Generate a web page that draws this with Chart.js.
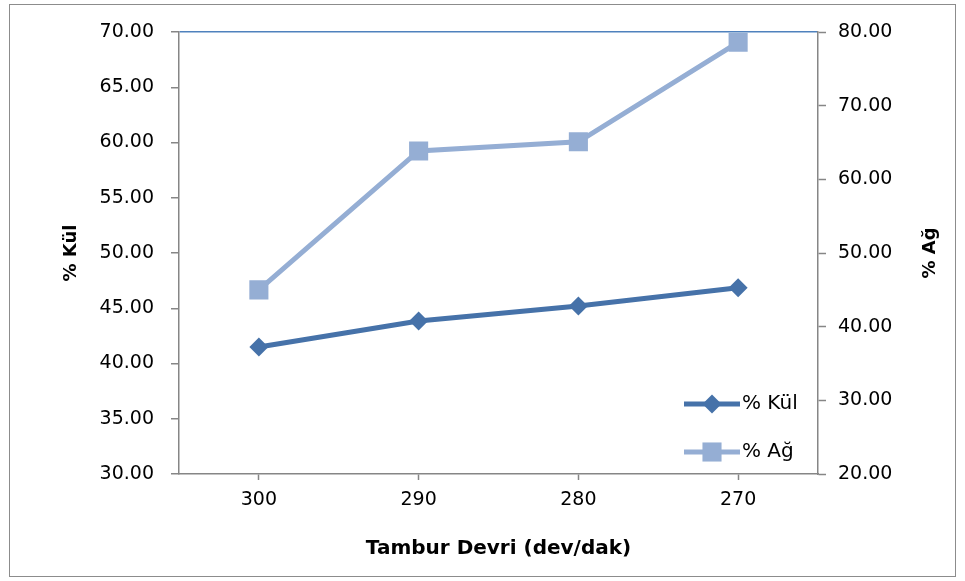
<!DOCTYPE html>
<html>
<head>
<meta charset="utf-8">
<script src="https://cdn.jsdelivr.net/npm/chart.js@4.4.1/dist/chart.umd.min.js"></script>
<style>
  html, body { margin: 0; padding: 0; background: #ffffff; }
  #wrap { width: 965px; height: 581px; position: relative; }
</style>
</head>
<body>
<div id="wrap"><canvas id="chart"></canvas></div>
<script>
// Drum speed (rev/min) and the two measured percentages
const speeds = ["300", "290", "280", "270"];
const kulValues = [41.5, 43.85, 45.2, 46.85];
const agValues = [45.0, 63.85, 65.1, 78.6];
const seriesNames = ["% Kül", "% Ağ"];
const rightTitle = "% Ağ";

const kulColor = "#4672A9";
const agColor = "#95AED4";
const axisGray = "#868686";
const fontFamily = "'DejaVu Sans', sans-serif";

// outer frame around the whole figure
const framePlugin = {
    id: "frame",
    beforeDraw(chart) {
        const ctx = chart.ctx;
        ctx.save();
        ctx.fillStyle = "#ffffff";
        ctx.fillRect(0, 0, chart.width, chart.height);
        ctx.strokeStyle = "#8c8c8c";
        ctx.lineWidth = 1;
        ctx.strokeRect(9.5, 4.5, 946, 572);
        ctx.restore();
    }
};

// right axis title reads bottom-to-top like the left one
const rightTitlePlugin = {
    id: "rightTitle",
    afterDraw(chart) {
        const ctx = chart.ctx;
        const area = chart.chartArea;
        ctx.save();
        ctx.translate(930, (area.top + area.bottom) / 2);
        ctx.rotate(-Math.PI / 2);
        ctx.fillStyle = "#000000";
        ctx.font = "bold 18px " + fontFamily;
        ctx.textAlign = "center";
        ctx.textBaseline = "middle";
        ctx.fillText(rightTitle, 0, 0);
        ctx.restore();
    }
};

// legend sits inside the plot, lower right, with line + marker samples
const innerLegend = {
    id: "innerLegend",
    afterDraw(chart) {
        const ctx = chart.ctx;
        const area = chart.chartArea;
        const x0 = area.right - 134;
        const x1 = area.right - 78;
        const rows = [area.bottom - 70, area.bottom - 22];
        ctx.save();
        chart.data.datasets.forEach((ds, i) => {
            const y = rows[i];
            ctx.strokeStyle = ds.borderColor;
            ctx.lineWidth = ds.borderWidth;
            ctx.beginPath();
            ctx.moveTo(x0, y);
            ctx.lineTo(x1, y);
            ctx.stroke();
            ctx.fillStyle = ds.pointBackgroundColor;
            Chart.helpers.drawPoint(ctx, {
                pointStyle: ds.pointStyle,
                radius: ds.pointRadius,
                borderWidth: 0
            }, (x0 + x1) / 2, y);
            ctx.fillStyle = "#000000";
            ctx.font = "20px " + fontFamily;
            ctx.textBaseline = "middle";
            ctx.textAlign = "left";
            ctx.fillText(ds.label, x1 + 2, y);
        });
        ctx.restore();
    }
};

new Chart(document.getElementById("chart"), {
    type: "line",
    data: {
        labels: speeds,
        datasets: [
            {
                label: seriesNames[0],
                data: kulValues,
                yAxisID: "y",
                borderColor: kulColor,
                backgroundColor: kulColor,
                pointBackgroundColor: kulColor,
                pointBorderWidth: 0,
                borderWidth: 5,
                pointStyle: "rectRot",
                pointRadius: 9.5,
                tension: 0
            },
            {
                label: seriesNames[1],
                data: agValues,
                yAxisID: "y2",
                borderColor: agColor,
                backgroundColor: agColor,
                pointBackgroundColor: agColor,
                pointBorderWidth: 0,
                borderWidth: 5,
                pointStyle: "rect",
                pointRadius: 13.5,
                tension: 0
            }
        ]
    },
    options: {
        responsive: true,
        maintainAspectRatio: false,
        animation: false,
        events: [],
        layout: { padding: { left: 10, right: 10, top: 32, bottom: 4 } },
        plugins: {
            legend: { display: false },
            tooltip: { enabled: false }
        },
        scales: {
            x: {
                offset: true,
                border: { color: axisGray, width: 1.5 },
                grid: {
                    drawOnChartArea: false,
                    tickLength: 6,
                    tickColor: axisGray,
                    tickWidth: 1.5
                },
                ticks: {
                    color: "#000000",
                    font: { family: fontFamily, size: 19 },
                    padding: 9,
                    maxRotation: 0
                },
                title: {
                    display: true,
                    text: "Tambur Devri (dev/dak)",
                    color: "#000000",
                    font: { family: fontFamily, size: 20, weight: "bold" },
                    padding: { top: 0, bottom: 16 }
                },
                afterFit(scale) { scale.height = 103; }
            },
            y: {
                position: "left",
                min: 30,
                max: 70,
                border: { color: axisGray, width: 1.5 },
                grid: {
                    color: ctx => ctx.tick && ctx.tick.value === 70 ? "#4F81BD" : "rgba(0,0,0,0)",
                    lineWidth: 1.5,
                    tickLength: 8,
                    tickColor: axisGray,
                    tickWidth: 1.5
                },
                ticks: {
                    stepSize: 5,
                    color: "#000000",
                    font: { family: fontFamily, size: 19 },
                    padding: 17,
                    callback: v => v.toFixed(2)
                },
                title: {
                    display: true,
                    text: "% Kül",
                    color: "#000000",
                    font: { family: fontFamily, size: 18, weight: "bold" },
                    padding: { top: 51, bottom: 0 }
                },
                afterFit(scale) { scale.width = 169; }
            },
            y2: {
                position: "right",
                min: 20,
                max: 80,
                border: { color: axisGray, width: 1.5 },
                grid: {
                    drawOnChartArea: false,
                    tickLength: 8,
                    tickColor: axisGray,
                    tickWidth: 1.5
                },
                ticks: {
                    stepSize: 10,
                    color: "#000000",
                    font: { family: fontFamily, size: 19 },
                    padding: 12,
                    callback: v => v.toFixed(2)
                },
                title: { display: false },
                afterFit(scale) { scale.width = 137; }
            }
        }
    },
    plugins: [framePlugin, rightTitlePlugin, innerLegend]
});
</script>
</body>
</html>
